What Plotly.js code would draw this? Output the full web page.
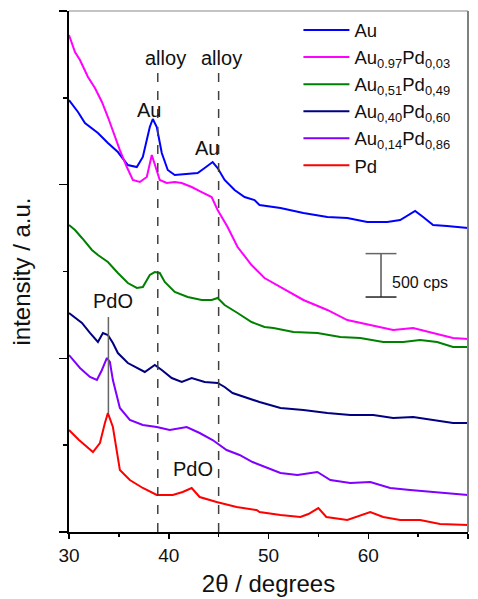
<!DOCTYPE html>
<html><head><meta charset="utf-8">
<script src="https://cdn.plot.ly/plotly-3.0.1.min.js"></script>
<style>html,body{margin:0;padding:0;background:#fff}#chart{width:478px;height:599px}</style>
</head><body><div id="chart"></div>
<script>
// Series names (legend order)
const seriesNames = ["Au", "Au<sub>0.97</sub>Pd<sub>0,03</sub>", "Au<sub>0,51</sub>Pd<sub>0,49</sub>",
  "Au<sub>0,40</sub>Pd<sub>0,60</sub>", "Au<sub>0,14</sub>Pd<sub>0,86</sub>", "Pd"];
const seriesColors = ["#0000ff", "#ff00ff", "#008000", "#000080", "#7f00ff", "#ff0000"];

// Au
const auX = [30.0,30.9,31.6,32.9,33.9,34.9,35.9,36.8,37.4,38.1,38.4,38.8,39.3,39.9,40.6,41.9,42.9,43.6,44.4,44.9,45.6,46.6,47.6,48.6,49.1,51.2,53.5,55.9,57.9,59.9,61.9,63.2,64.7,65.5,66.5,67.9,70.0];
const auY = [4975,4837,4710,4595,4480,4376,4226,4203,4319,4664,4756,4664,4365,4169,4111,4123,4134,4192,4261,4192,4054,3938,3858,3823,3766,3731,3674,3628,3616,3570,3570,3593,3697,3628,3535,3524,3501];

// Au0.97Pd0.03
const au97X = [30.0,30.6,31.1,31.9,32.6,33.3,33.9,34.6,35.1,35.8,36.4,37.1,37.8,38.3,38.7,39.1,39.8,40.6,41.3,42.3,43.3,44.3,44.9,45.9,46.9,48.3,49.6,51.2,53.5,55.9,57.9,60.2,62.5,64.5,66.5,68.5,70.0];
const au97Y = [5723,5528,5436,5240,5113,4952,4779,4549,4399,4203,4054,4031,4088,4342,4203,4054,4019,4031,4019,3973,3915,3858,3708,3512,3282,3075,2925,2821,2672,2557,2441,2384,2326,2349,2292,2234,2223];

// Au0.51Pd0.49
const au51X = [30.0,30.6,31.3,32.3,32.9,33.9,34.9,35.9,36.8,37.4,38.1,38.6,39.1,39.6,40.6,41.9,43.3,44.3,44.9,45.6,46.9,48.3,49.6,50.5,52.5,54.9,57.2,59.2,61.5,63.5,65.2,66.9,68.5,70.0];
const au51Y = [3535,3478,3386,3248,3190,3109,2983,2867,2810,2821,2960,2994,2983,2879,2764,2706,2672,2672,2695,2614,2522,2418,2361,2349,2303,2292,2246,2234,2188,2188,2211,2188,2130,2130];

// Au0.40Pd0.60
const au40X = [30.0,30.6,31.3,32.1,32.9,33.4,33.9,34.4,34.9,35.9,36.8,37.6,38.6,39.3,40.3,41.3,42.3,43.6,44.9,45.6,46.4,47.8,49.1,51.2,53.5,55.9,58.2,60.5,62.5,64.5,66.5,68.5,70.0];
const au40Y = [2522,2464,2407,2292,2188,2292,2269,2177,2061,1946,1889,1843,1923,1866,1773,1727,1773,1727,1716,1670,1601,1543,1497,1428,1405,1370,1347,1347,1313,1324,1290,1255,1255];

// Au0.14Pd0.86
const au14X = [30.0,31.1,32.1,32.8,33.3,33.8,34.1,34.4,35.1,36.1,37.4,38.8,40.1,41.8,43.1,44.4,45.8,47.1,48.4,49.1,51.2,52.9,54.9,56.2,58.2,60.2,62.2,64.2,66.5,68.5,70.0];
const au14Y = [2038,1889,1785,1750,1866,2004,1958,1750,1428,1290,1232,1209,1175,1209,1140,1059,944,887,806,772,679,656,691,599,564,576,507,484,461,449,426];

// Pd
const pdX = [30.0,31.0,32.4,33.1,33.6,33.9,34.4,35.1,36.1,37.4,38.8,40.4,41.4,42.3,43.1,44.8,46.8,48.8,49.1,51.2,53.2,54.0,55.0,55.8,57.9,60.2,61.5,63.2,65.2,67.2,70.0];
const pdY = [1175,1059,921,1025,1255,1370,1209,714,599,507,426,426,461,507,403,345,288,253,230,196,173,207,276,173,138,230,173,138,138,92,81];

// Reference marks (data units)
const alloyLinesX = [38.9, 45.0];
const alloyLineTop = 5286;
const pdoLine = {x: 33.95, y0: 1370, y1: 2476};
const scaleBar = {x: 61.28, halfW: 1.55, y0: 2706, size: 500, label: "500 cps"};
const labels = [
  {text: "alloy", x: 39.72, y: 5459}, {text: "alloy", x: 45.24, y: 5459},
  {text: "Au", x: 38.02, y: 4860}, {text: "Au", x: 43.83, y: 4422},
  {text: "PdO", x: 34.41, y: 2660}, {text: "PdO", x: 42.43, y: 726}
];

const FONT = "Liberation Sans, Arial, Helvetica, sans-serif";
const xs = [auX, au97X, au51X, au40X, au14X, pdX];
const ys = [auY, au97Y, au51Y, au40Y, au14Y, pdY];
const traces = xs.map((x, i) => ({
  x: x, y: ys[i], name: seriesNames[i], type: "scatter", mode: "lines",
  line: {color: seriesColors[i], width: 2}
}));

const shapes = [];
alloyLinesX.forEach(x => shapes.push({type: "line", xref: "x", yref: "y", x0: x, x1: x, y0: 0, y1: alloyLineTop,
  line: {color: "#404040", width: 1.5, dash: "dash"}}));
shapes.push({type: "line", xref: "x", yref: "y", x0: pdoLine.x, x1: pdoLine.x, y0: pdoLine.y0, y1: pdoLine.y1,
  line: {color: "#666666", width: 1.5}});
shapes.push({type: "line", xref: "x", yref: "y", x0: scaleBar.x, x1: scaleBar.x, y0: scaleBar.y0, y1: scaleBar.y0 + scaleBar.size,
  line: {color: "#555555", width: 1.5}});
shapes.push({type: "line", xref: "x", yref: "y", x0: scaleBar.x - scaleBar.halfW, x1: scaleBar.x + scaleBar.halfW, y0: scaleBar.y0 + scaleBar.size, y1: scaleBar.y0 + scaleBar.size,
  line: {color: "#666666", width: 1.5}});
shapes.push({type: "line", xref: "x", yref: "y", x0: scaleBar.x - scaleBar.halfW, x1: scaleBar.x + scaleBar.halfW, y0: scaleBar.y0, y1: scaleBar.y0,
  line: {color: "#222222", width: 1.5}});
// top and right frame (grey)
shapes.push({type: "line", xref: "paper", yref: "paper", x0: 0, x1: 1, y0: 1, y1: 1, line: {color: "#888888", width: 1.2}});
shapes.push({type: "line", xref: "paper", yref: "paper", x0: 1, x1: 1, y0: 0, y1: 1, line: {color: "#808080", width: 2}});

const annotations = labels.map(l => ({text: l.text, x: l.x, y: l.y, xref: "x", yref: "y", showarrow: false,
  font: {family: FONT, size: 20, color: "#111"}}));
annotations.push({text: scaleBar.label, x: scaleBar.x + 0.9, y: scaleBar.y0 + 170, xref: "x", yref: "y", showarrow: false,
  xanchor: "left", font: {family: FONT, size: 16, color: "#111"}});

const layout = {
  width: 478, height: 599,
  margin: {l: 69, r: 10, t: 11, b: 67},
  paper_bgcolor: "#fff", plot_bgcolor: "#fff",
  font: {family: FONT, color: "#111"},
  showlegend: true,
  legend: {x: 0.575, y: 0.999, xanchor: "left", yanchor: "top", bgcolor: "rgba(0,0,0,0)",
    font: {family: FONT, size: 18.5, color: "#111"}, itemwidth: 46, tracegroupgap: 0},
  xaxis: {range: [30, 70], tickvals: [30, 40, 50, 60, 70], ticks: "outside", ticklen: 5, tickwidth: 1.5, tickcolor: "#000",
    minor: {tickvals: [35, 45, 55, 65], ticks: "outside", ticklen: 3, tickwidth: 1.5, tickcolor: "#000"},
    showline: true, linecolor: "#000", linewidth: 2, showgrid: false, zeroline: false,
    tickfont: {family: FONT, size: 19, color: "#111"},
    title: {text: "2θ / degrees", font: {family: FONT, size: 24, color: "#111"}, standoff: 10}},
  yaxis: {range: [0, 6000], tickvals: [0, 2000, 4000, 6000], ticks: "outside", ticklen: 8, tickwidth: 1.5, tickcolor: "#000",
    minor: {tickvals: [1000, 3000, 5000], ticks: "outside", ticklen: 4, tickwidth: 1.5, tickcolor: "#000"},
    showticklabels: false, showline: true, linecolor: "#000", linewidth: 2, showgrid: false, zeroline: false,
    title: {text: "intensity / a.u.", font: {family: FONT, size: 24, color: "#111"}, standoff: 22}},
  shapes: shapes, annotations: annotations
};
Plotly.newPlot("chart", traces, layout, {displayModeBar: false, staticPlot: true});
</script></body></html>
